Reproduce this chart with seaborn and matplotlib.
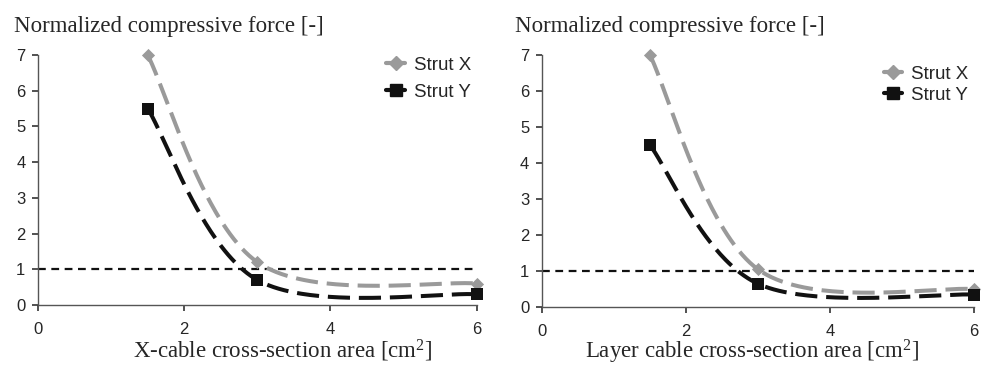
import numpy as np
import pandas as pd
import matplotlib
matplotlib.use("Agg")
import matplotlib.pyplot as plt
from matplotlib.lines import Line2D
import seaborn as sns

# Data
area = [1.5, 3.0, 6.0]

# left panel: X-cable
xcable_strut_x = [7.0, 1.2, 0.6]
xcable_strut_y = [5.5, 0.7, 0.3]

# right panel: layer cable
layer_strut_x = [7.0, 1.05, 0.5]
layer_strut_y = [4.5, 0.65, 0.35]

xlabels = ["X-cable cross-section area [cm$^2$]",
           "Layer cable cross-section area [cm$^2$]"]
ylabel = "Normalized compressive force [-]"
series_names = ["Strut X", "Strut Y"]
limit_value = 1.0

sns.set_style("ticks")
plt.rcParams["font.family"] = ["Liberation Sans", "DejaVu Sans"]
plt.rcParams["mathtext.default"] = "regular"

gray = "#9a9a9a"
black = "#111111"


def smooth(x, y, n=80):
    # Excel-like smoothed line: cubic Bezier through each pair of points
    pts = np.column_stack([x, y]).astype(float)
    out = []
    for i in range(len(pts) - 1):
        p_prev = pts[max(i - 1, 0)]
        p0 = pts[i]
        p1 = pts[i + 1]
        p_next = pts[min(i + 2, len(pts) - 1)]
        c1 = p0 + (p1 - p_prev) / 6
        c2 = p1 - (p_next - p0) / 6
        t = np.linspace(0, 1, n)[:, None]
        seg = ((1 - t) ** 3) * p0 + 3 * ((1 - t) ** 2) * t * c1 \
            + 3 * (1 - t) * t ** 2 * c2 + t ** 3 * p1
        out.append(seg if i == 0 else seg[1:])
    out = np.vstack(out)
    return pd.DataFrame({"x": out[:, 0], "y": out[:, 1]})


fig = plt.figure(figsize=(9.87, 3.67), dpi=100)
ax1 = fig.add_axes([0.0385, 0.169, 0.4445, 0.681])
ax2 = fig.add_axes([0.549, 0.163, 0.438, 0.687])

# axes, strut X, strut Y, x-label left edge (px), legend spacing, legend top
panels = [
    (ax1, xcable_strut_x, xcable_strut_y, 133, 0.5, 1.06),
    (ax2, layer_strut_x, layer_strut_y, 585, 0.2, 1.025),
]

for k, (ax, sx, sy, label_x, spacing, leg_top) in enumerate(panels):
    # reference line at 1
    ax.axhline(limit_value, color=black, lw=1.6, ls=(0, (3.5, 2.5)), zorder=1)

    cx = smooth(area, sx)
    cy = smooth(area, sy)
    sns.lineplot(data=cx, x="x", y="y", ax=ax, color=gray, lw=2.9,
                 sort=False, estimator=None, zorder=2)
    sns.lineplot(data=cy, x="x", y="y", ax=ax, color=black, lw=2.9,
                 sort=False, estimator=None, zorder=3)
    ax.lines[-2].set_dashes((5.5, 2.2))
    ax.lines[-1].set_dashes((5.5, 2.2))

    ax.scatter(area, sx, marker="D", s=45, color=gray, zorder=4, clip_on=False,
               linewidths=0)
    ax.scatter(area, sy, marker="s", s=75, color=black, zorder=5, clip_on=False,
               linewidths=0)

    ax.set_xlim(0, 6)
    ax.set_ylim(0, 7)
    ax.set_xticks([0, 2, 4, 6])
    ax.set_yticks(range(0, 8))
    ax.set_xlabel("")
    ax.set_ylabel("")
    ax.tick_params(axis="both", labelsize=12, length=4, width=1.2,
                   color="#333333", pad=5)
    ax.tick_params(axis="x", pad=8)
    for side in ["top", "right"]:
        ax.spines[side].set_visible(False)
    for side in ["left", "bottom"]:
        ax.spines[side].set_color("#555555")
        ax.spines[side].set_linewidth(1.0)

    handles = [
        Line2D([0], [0], color=gray, lw=3, marker="D", markersize=7),
        Line2D([0], [0], color=black, lw=3, marker="s", markersize=8),
    ]
    ax.legend(handles, series_names, loc="upper right", frameon=False,
              fontsize=13.5, handlelength=1.0, handletextpad=0.45,
              labelspacing=spacing, bbox_to_anchor=(1.025, leg_top))

    # axis titles in serif, as in the original
    x0 = 14 if k == 0 else 515
    fig.text(x0 / 987, 1 - 32 / 367, ylabel, family="Liberation Serif",
             fontsize=16.5, va="baseline", ha="left")
    fig.text(label_x / 987, 1 - 358 / 367, xlabels[k], family="Liberation Serif",
             fontsize=16.5, va="baseline", ha="left")

fig.savefig("out.png", dpi=100)
